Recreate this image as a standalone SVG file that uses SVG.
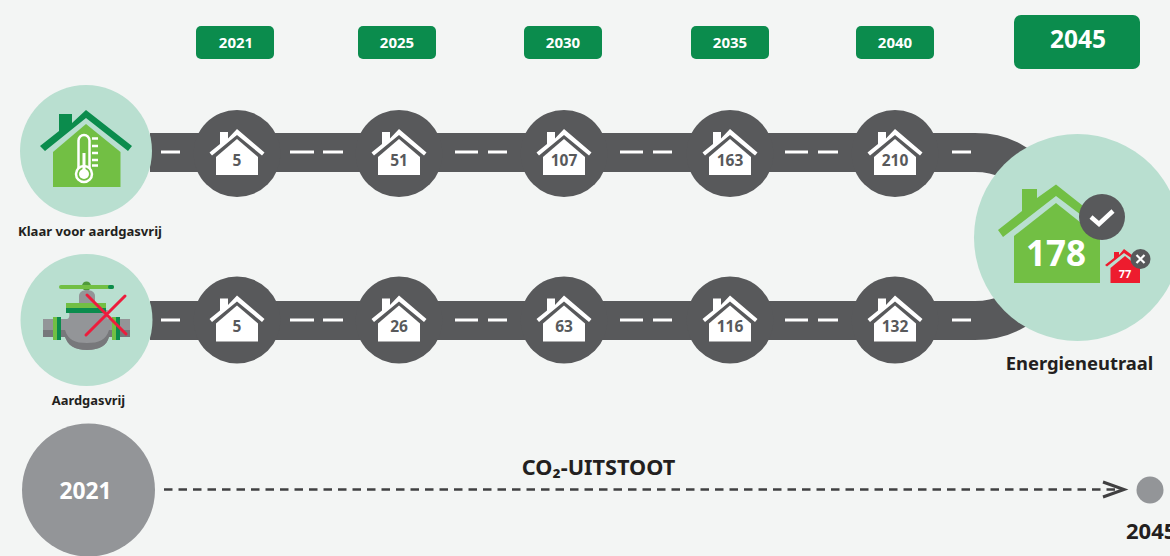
<svg xmlns="http://www.w3.org/2000/svg" width="1170" height="556" viewBox="0 0 1170 556">
<style>
text{font-family:"Noto Sans","Open Sans","Liberation Sans",sans-serif;font-weight:700}
.yr{fill:#fff;font-size:15px;text-anchor:middle}
.btn{fill:#0b8c4d}
.road{fill:none;stroke:#58595b;stroke-width:39}
.dash{fill:none;stroke:#fff;stroke-width:3}
.hub{fill:#58595b}
.n{fill:#58595b;font-size:15.500px;text-anchor:middle}
.lab{fill:#231f20;text-anchor:middle}
.mint{fill:#b9dfd0}
</style>
<defs>
<g id="wh">
<path fill="#fff" d="M-17 -21.500H-9V-15L0 -24.500L27.500 -1L25 2L0 -18.500L-25 2L-27.500 -1L-17 -9.500Z"/>
<path fill="#fff" d="M0 -14.500L21 3.500V21.500H-21V3.500Z"/>
</g>
</defs>
<rect width="1170" height="556" fill="#f3f5f4"/>
<g id="connectors">
<path class="road" d="M150 152.500H975C1005 152.500 1020 165 1035 180"/>
<path class="road" d="M150 320.500H975C1005 320.500 1020 308 1035 295"/>
<path class="dash" d="M161 152H180M290 152H314M323 152H343M455 152H478M488 152H507M620 152H643M653 152H672M785 152H808M818 152H838M952 152H971"/>
<path class="dash" d="M161 320H180M290 320H314M323 320H343M455 320H478M488 320H507M620 320H643M653 320H672M785 320H808M818 320H838M952 320H971"/>
<path fill="none" stroke="#404041" stroke-width="2.500" stroke-dasharray="8.500 6" d="M164 489.500H1122"/>
<path fill="none" stroke="#404041" stroke-width="3" d="M1103 482L1124 489.500L1103 497"/>
</g>
<g id="y2021"><rect class="btn" x="196" y="26" width="78" height="33" rx="5"/><text class="yr" x="236" y="47.500">2021</text></g>
<g id="y2025"><rect class="btn" x="358" y="26" width="78" height="33" rx="5"/><text class="yr" x="397" y="47.500">2025</text></g>
<g id="y2030"><rect class="btn" x="524" y="26" width="78" height="33" rx="5"/><text class="yr" x="563" y="47.500">2030</text></g>
<g id="y2035"><rect class="btn" x="691" y="26" width="78" height="33" rx="5"/><text class="yr" x="730" y="47.500">2035</text></g>
<g id="y2040"><rect class="btn" x="856" y="26" width="78" height="33" rx="5"/><text class="yr" x="895" y="47.500">2040</text></g>
<g id="y2045"><rect class="btn" x="1014" y="15" width="126" height="54" rx="7"/><text class="yr" x="1078" y="48" style="font-size:24.500px">2045</text></g>
<g id="r1a"><circle class="hub" cx="237" cy="153.500" r="43.500"/><use href="#wh" x="237" y="153.500"/><text class="n" x="237" y="166">5</text></g>
<g id="r1b"><circle class="hub" cx="399" cy="153.500" r="43.500"/><use href="#wh" x="399" y="153.500"/><text class="n" x="399" y="166">51</text></g>
<g id="r1c"><circle class="hub" cx="564" cy="153.500" r="43.500"/><use href="#wh" x="564" y="153.500"/><text class="n" x="564" y="166">107</text></g>
<g id="r1d"><circle class="hub" cx="730" cy="153.500" r="43.500"/><use href="#wh" x="730" y="153.500"/><text class="n" x="730" y="166">163</text></g>
<g id="r1e"><circle class="hub" cx="895" cy="153.500" r="43.500"/><use href="#wh" x="895" y="153.500"/><text class="n" x="895" y="166">210</text></g>
<g id="r2a"><circle class="hub" cx="237" cy="320" r="43.500"/><use href="#wh" x="237" y="320"/><text class="n" x="237" y="332">5</text></g>
<g id="r2b"><circle class="hub" cx="399" cy="320" r="43.500"/><use href="#wh" x="399" y="320"/><text class="n" x="399" y="332">26</text></g>
<g id="r2c"><circle class="hub" cx="564" cy="320" r="43.500"/><use href="#wh" x="564" y="320"/><text class="n" x="564" y="332">63</text></g>
<g id="r2d"><circle class="hub" cx="730" cy="320" r="43.500"/><use href="#wh" x="730" y="320"/><text class="n" x="730" y="332">116</text></g>
<g id="r2e"><circle class="hub" cx="895" cy="320" r="43.500"/><use href="#wh" x="895" y="320"/><text class="n" x="895" y="332">132</text></g>
<g id="klaar">
<circle class="mint" cx="86" cy="151" r="66"/>
<path fill="#0b8c4d" d="M59 114H72V123L86 110L132 146L128 151L86 118L45 151L40 146L59 131Z"/>
<path fill="#72bf44" d="M86 124L120.500 152V187H53V152Z"/>
<rect x="78.500" y="135" width="11" height="45" rx="5.500" fill="none" stroke="#fff" stroke-width="2.500"/>
<circle cx="84" cy="174" r="8" fill="#72bf44" stroke="#fff" stroke-width="2.500"/>
<circle cx="84" cy="174" r="5" fill="#fff"/>
<rect x="82.500" y="153" width="3" height="18" fill="#fff"/>
<path stroke="#fff" stroke-width="2.500" d="M92 138.500H98M92 146H98M92 153H98M92 160H98M92 165.500H98"/>
<text x="90" y="236" class="lab" style="font-size:13.100px">Klaar voor aardgasvrij</text>
</g>
<g id="aardgasvrij">
<circle class="mint" cx="86.500" cy="320" r="66"/>
<circle cx="86.500" cy="286" r="4.500" fill="#4f9a3a"/>
<rect x="59" y="285" width="55" height="4" rx="2" fill="#72bf44"/>
<rect x="108" y="285" width="6" height="4" rx="2" fill="#0b8c4d"/>
<path fill="#939598" d="M79 305V296C79 288 95 288 95 296V305Z"/>
<path fill="#939598" d="M43 319H67C70 319 70 313 68 310H108C106 313 106 319 109 319H130V337H109C107 345 100 350 87 350C74 350 68 345 65 337H43Z"/>
<path fill="#77787b" d="M43 330H65C68 340 75 343 87 343C99 343 106 340 109 330H130V337H109C107 345 100 350 87 350C74 350 68 345 65 337H43Z"/>
<rect x="66" y="303" width="40" height="5" fill="#72bf44"/><rect x="66" y="308" width="40" height="5" fill="#0b8c4d"/>
<rect x="53" y="317" width="8" height="23" fill="#72bf44"/><rect x="57" y="317" width="4" height="23" fill="#0b8c4d"/>
<rect x="112" y="317" width="8" height="23" fill="#72bf44"/><rect x="116" y="317" width="4" height="23" fill="#0b8c4d"/>
<path stroke="#ed1c3c" stroke-width="3" stroke-linecap="round" d="M87 295L126 334M125 296L86 335"/>
<text x="88.500" y="405" class="lab" style="font-size:12.900px">Aardgasvrij</text>
</g>
<g id="energieneutraal">
<circle class="mint" cx="1077.500" cy="237.500" r="103.500"/>
<path fill="#72bf44" d="M1022 189H1037V198L1056 184.500L1102 221L1097 227L1056 196L1003 237L998 230L1022 211Z"/>
<path fill="#72bf44" d="M1056 203L1100 238V283H1014V236Z"/>
<text x="1056" y="266" text-anchor="middle" fill="#fff" style="font-size:35px">178</text>
<circle cx="1102" cy="217" r="23" fill="#58595b"/>
<path fill="none" stroke="#fff" stroke-width="4.500" d="M1091 217L1099 224L1113 211"/>
<path fill="#ed1c2e" d="M1114 252H1119V255L1124 249L1140 261L1138.500 263L1124 253L1107 266.500L1105 265L1114 258Z"/>
<path fill="#ed1c2e" d="M1125 256L1140 268V283H1110.500V268Z"/>
<text x="1125" y="278" text-anchor="middle" fill="#fff" style="font-size:11px">77</text>
<circle cx="1140.500" cy="259" r="10" fill="#58595b"/>
<path stroke="#fff" stroke-width="2.200" d="M1136.500 255L1144.500 263M1144.500 255L1136.500 263"/>
<text x="1079.500" y="370" class="lab" style="font-size:18.400px">Energieneutraal</text>
</g>
<g id="start"><circle cx="88.500" cy="490" r="66.500" fill="#939598"/><text x="85.500" y="499" text-anchor="middle" fill="#fff" style="font-size:22.800px">2021</text></g>
<g id="co2"><text x="598.500" y="475" class="lab" style="font-size:21.700px">CO₂-UITSTOOT</text></g>
<g id="end"><circle cx="1150" cy="490" r="13.500" fill="#939598"/><text x="1126" y="539" fill="#231f20" style="font-size:22px">2045</text></g>
</svg>
